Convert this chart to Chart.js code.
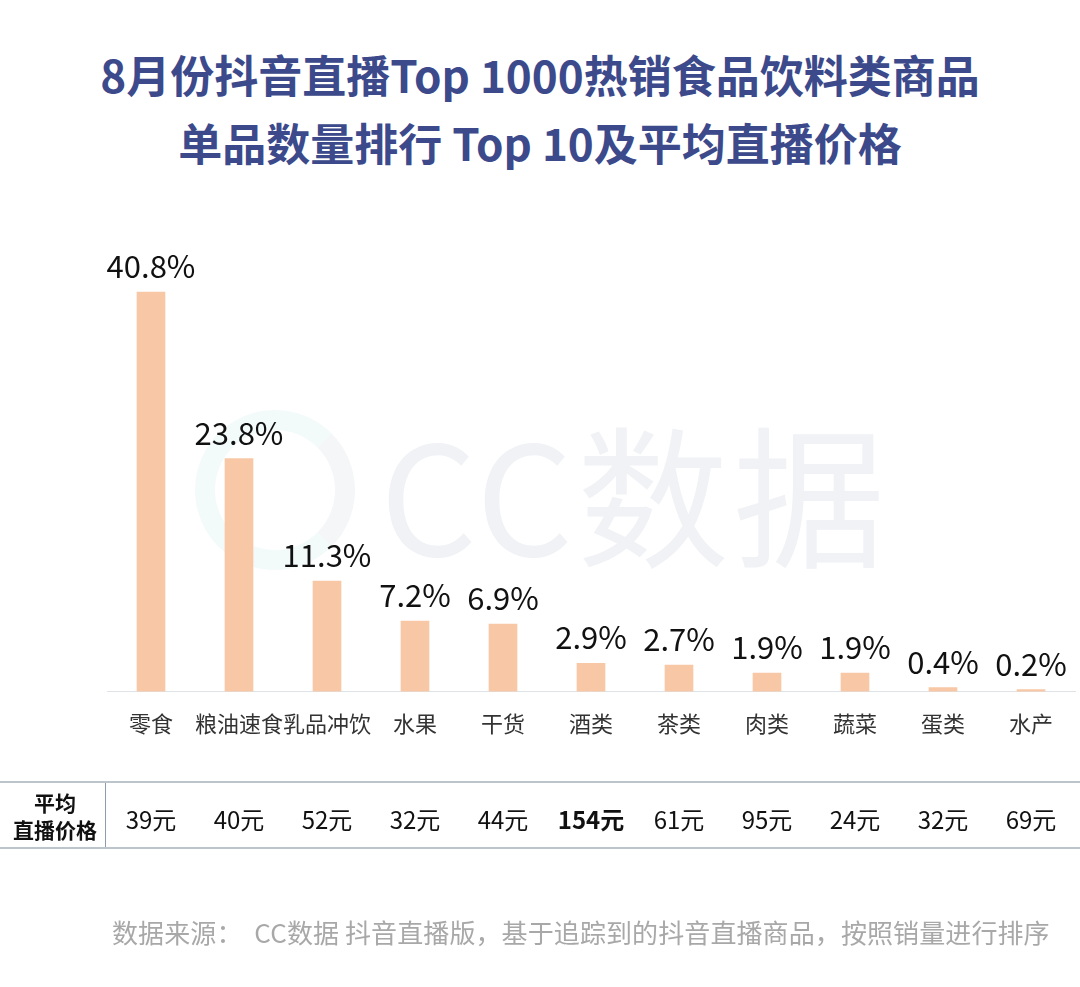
<!DOCTYPE html>
<html>
<head>
<meta charset="utf-8">
<script src="https://cdn.jsdelivr.net/npm/chart.js@4"></script>
<style>
  body { margin: 0; background: #fff; font-family: "Noto Sans CJK SC", "Noto Sans", sans-serif; }
  #wrap { position: relative; width: 1080px; height: 987px; overflow: hidden; }
  #title { position: absolute; left: 0; top: 40px; width: 1080px; text-align: center;
           font-size: 44px; font-weight: bold; color: #3c4a8c; line-height: 68px; }
  #mark { position: absolute; left: 380px; top: 380px; font-size: 152px; color: #f0f2f5; letter-spacing: 4px; }
  #logo { position: absolute; left: 195px; top: 410px; width: 120px; height: 120px;
          border: 20px solid #f3fafa; border-right-color: #f4f6f8; border-radius: 50%; }
  #source { position: absolute; left: 112px; top: 913px; font-size: 26px; color: #a8a8a8; white-space: pre; letter-spacing: 0.1px; }
  canvas { position: absolute; left: 0; top: 0; }
</style>
</head>
<body>
<div id="wrap">
  <div id="logo"></div>
  <div id="mark">CC数据</div>
  <div id="title">8月份抖音直播Top 1000热销食品饮料类商品<br>单品数量排行 Top 10及平均直播价格</div>
  <canvas id="chart" width="1080" height="987"></canvas>
  <div id="source">数据来源：  CC数据 抖音直播版，基于追踪到的抖音直播商品，按照销量进行排序</div>
</div>
<script>
const categories = ['零食', '粮油速食', '乳品冲饮', '水果', '干货', '酒类', '茶类', '肉类', '蔬菜', '蛋类', '水产'];
const shares = [40.8, 23.8, 11.3, 7.2, 6.9, 2.9, 2.7, 1.9, 1.9, 0.4, 0.2];
const prices = [39, 40, 52, 32, 44, 154, 61, 95, 24, 32, 69];
const boldPrice = 5;

const fontFamily = '"Noto Sans CJK SC", "Noto Sans", sans-serif';

// percentage above each bar
const valueLabels = {
  id: 'valueLabels',
  afterDatasetsDraw(chart) {
    const ctx = chart.ctx;
    const meta = chart.getDatasetMeta(0);
    ctx.save();
    ctx.font = '31px ' + fontFamily;
    ctx.fillStyle = '#111';
    ctx.textAlign = 'center';
    ctx.textBaseline = 'bottom';
    meta.data.forEach((bar, i) => {
      ctx.fillText(shares[i].toFixed(1) + '%', bar.x, bar.y - 10);
    });
    ctx.restore();
  }
};

// price row under the axis
const priceRow = {
  id: 'priceRow',
  afterDraw(chart) {
    const ctx = chart.ctx;
    const x = chart.scales.x;
    ctx.save();
    ctx.strokeStyle = '#bcc4cc';
    ctx.lineWidth = 2;
    ctx.beginPath();
    ctx.moveTo(0, 782); ctx.lineTo(1080, 782);
    ctx.moveTo(0, 848); ctx.lineTo(1080, 848);
    ctx.stroke();
    ctx.lineWidth = 1;
    ctx.strokeStyle = '#8d9bab';
    ctx.beginPath();
    ctx.moveTo(105.5, 783); ctx.lineTo(105.5, 847);
    ctx.stroke();

    ctx.fillStyle = '#111';
    ctx.textAlign = 'center';
    ctx.textBaseline = 'middle';
    ctx.font = 'bold 21px ' + fontFamily;
    ctx.fillText('平均', 55, 803);
    ctx.fillText('直播价格', 55, 830);

    prices.forEach((p, i) => {
      ctx.font = (i === boldPrice ? 'bold ' : '') + '24px ' + fontFamily;
      ctx.fillText(p + '元', x.getPixelForValue(i), 820);
    });
    ctx.restore();
  }
};

const data = {
  labels: categories,
  datasets: [{
    data: shares,
    backgroundColor: '#f7c7a6',
    barThickness: 28
  }]
};

const config = {
  type: 'bar',
  data: data,
  options: {
    responsive: false,
    animation: false,
    layout: { padding: { left: 107, right: 5, top: 251, bottom: 239 } },
    plugins: { legend: { display: false }, tooltip: { enabled: false } },
    scales: {
      x: {
        grid: { display: false },
        border: { display: true, color: '#dfe2e6', width: 1 },
        ticks: {
          color: '#333',
          font: { size: 22, family: fontFamily },
          padding: 11,
          maxRotation: 0,
          autoSkip: false
        }
      },
      y: { display: false, min: 0, max: 45 }
    }
  },
  plugins: [valueLabels, priceRow]
};

const myChart = new Chart(document.getElementById('chart'), config);
</script>
</body>
</html>
